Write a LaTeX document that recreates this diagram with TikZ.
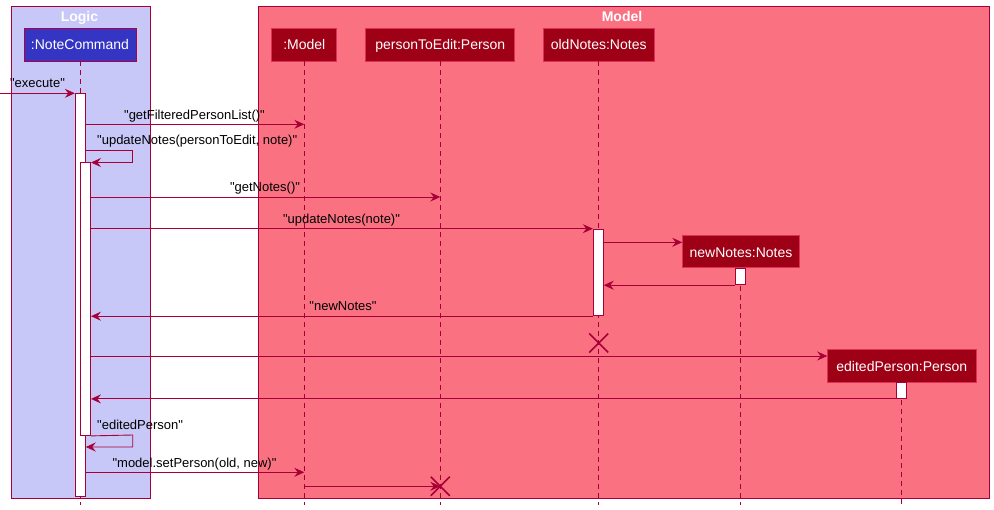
\documentclass[tikz,border=0pt]{standalone}
\usepackage{fontspec}
\setmainfont{Liberation Sans}[Ligatures=TeXOff]
\usetikzlibrary{arrows.meta}
\definecolor{ln}{HTML}{A80036}
\definecolor{logicbg}{HTML}{C8C8F8}
\definecolor{modelbg}{HTML}{FA7282}
\definecolor{partred}{HTML}{9E0016}
\definecolor{partredbd}{HTML}{E0305A}
\definecolor{partblue}{HTML}{3535C4}
\definecolor{partbluebd}{HTML}{B0003E}
\tikzset{
  groupbox/.style={draw=ln, line width=0.9pt, anchor=north west, inner sep=0pt},
  grouptitle/.style={anchor=base, text=white, font=\fontsize{14}{16}\selectfont\bfseries, inner sep=0pt},
  part/.style={rectangle, minimum height=33pt, inner sep=0pt, text=white,
    text height=11pt, text depth=0pt, font=\fontsize{14}{16}\selectfont, line width=0.9pt},
  modelpart/.style={part, fill=partred, draw=partredbd},
  logicpart/.style={part, fill=partblue, draw=partbluebd},
  lifeline/.style={draw=ln, line width=0.9pt, dash pattern=on 5pt off 4pt},
  actbox/.style={rectangle, fill=white, draw=ln, line width=0.9pt, minimum width=10pt, inner sep=0pt, anchor=north},
  msg/.style={draw=ln, line width=0.9pt, -{Stealth[length=10pt,width=9pt,inset=3.5pt]}},
  lbl/.style={anchor=base, inner sep=0pt, font=\fontsize{13}{15}\selectfont},
  lbll/.style={anchor=base west, inner sep=0pt, font=\fontsize{13}{15}\selectfont},
  crossline/.style={draw=ln, line width=1.6pt}
}
\begin{document}
\begin{tikzpicture}[x=1pt,y=-1pt]
\useasboundingbox (0,0) rectangle (994,510);
\fill[white] (0,0) rectangle (994,510);

% groups
\node[groupbox, fill=logicbg, minimum width=139pt, minimum height=492pt] (logic) at (10.5,6.5) {};
\node[groupbox, fill=modelbg, minimum width=731pt, minimum height=492pt] (modelgrp) at (258.3,6.5) {};
\node[grouptitle] (logict) at (79.5,21.5) {Logic};
\node[grouptitle] (modelt) at (622,21.5) {Model};

% participants
\node[logicpart, minimum width=112pt] (nc) at (80,44.5) {:NoteCommand};
\node[modelpart, minimum width=65pt] (model) at (304.3,44.5) {:Model};
\node[modelpart, minimum width=149pt] (pte) at (440.3,44.5) {personToEdit:Person};
\node[modelpart, minimum width=110.6pt] (old) at (598.7,44.5) {oldNotes:Notes};

\coordinate (bot) at (0,505);
\coordinate (ext) at (0,93.3);

% lifelines
\draw[lifeline] (nc.south) -- (nc.south |- bot);
\draw[lifeline] (model.south) -- (model.south |- bot);
\draw[lifeline] (pte.south) -- (pte.south |- bot);
\draw[lifeline] (old.south) -- (old.south |- bot);

\node[modelpart, minimum width=116.6pt, minimum height=32pt] (newn) at (741,251.7) {newNotes:Notes};
\node[modelpart, minimum width=148.3pt, minimum height=32.7pt] (ep) at (901.8,365.7) {editedPerson:Person};
\draw[lifeline] (newn.south -| 740.3,0) -- (740.3,505);
\draw[lifeline] (ep.south -| 901.3,0) -- (901.3,505);

% activations
\node[actbox, minimum height=402.7pt] (act1) at (80.3,93.3) {};
\node[actbox, minimum height=272.5pt] (act2) at (85.5,162.5) {};
\node[actbox, minimum height=86.6pt] (act3) at (598.3,228.7) {};
\node[actbox, minimum height=16.6pt] (act4) at (740.3,267.7) {};
\node[actbox, minimum height=16pt] (act5) at (901.5,382) {};

% messages
\draw[msg] (ext) -- (act1.north west);
\node[lbl] (l1) at (37.5,88) {"execute"};

\draw[msg] (act1.east |- 0,124.3) -- (model.south |- 0,124.3);
\node[lbl] (l2) at (194.5,119.3) {"getFilteredPersonList()"};

\draw[msg] (act1.east |- 0,150) -- (132.7,150) -- (132.7,162.5) -- (act2.north east);
\node[lbll] (l3) at (97,145) {"updateNotes(personToEdit, note)"};

\draw[msg] (act2.east |- 0,197) -- (pte.south |- 0,197);
\node[lbl] (l4) at (265,192) {"getNotes()"};

\draw[msg] (act2.east |- act3.north) -- (act3.north west);
\node[lbl] (l5) at (341.5,223.5) {"updateNotes(note)"};

\draw[msg] (act3.east |- 0,242.3) -- (newn.west |- 0,242.3);
\draw[msg] (act4.south west) -- (act3.east |- act4.south);

\draw[msg] (act3.south west) -- (act2.east |- act3.south);
\node[lbl] (l6) at (343,310.3) {"newNotes"};

\coordinate (x1) at (old.south |- 0,343);
\draw[crossline] (x1) +(-9.5,-9.5) -- +(9.5,9.5) (x1) +(-9.5,9.5) -- +(9.5,-9.5);

\draw[msg] (act2.east |- 0,356) -- (ep.west |- 0,356);
\draw[msg] (act5.south west) -- (act2.east |- act5.south);

\draw[msg] (act2.south east) -- (132.7,435) -- (132.7,447) -- (act1.east |- 0,447);
\node[lbll] (l7) at (97,430) {"editedPerson"};

\draw[msg] (act1.east |- 0,472.3) -- (model.south |- 0,472.3);
\node[lbl] (l8) at (194.5,467.3) {"model.setPerson(old, new)"};

\coordinate (x2) at (pte.south |- 0,486.3);
\draw[msg] (model.south |- x2) -- (x2);
\draw[crossline] (x2) +(-9.5,-9.5) -- +(9.5,9.5) (x2) +(-9.5,9.5) -- +(9.5,-9.5);
\end{tikzpicture}
\end{document}
